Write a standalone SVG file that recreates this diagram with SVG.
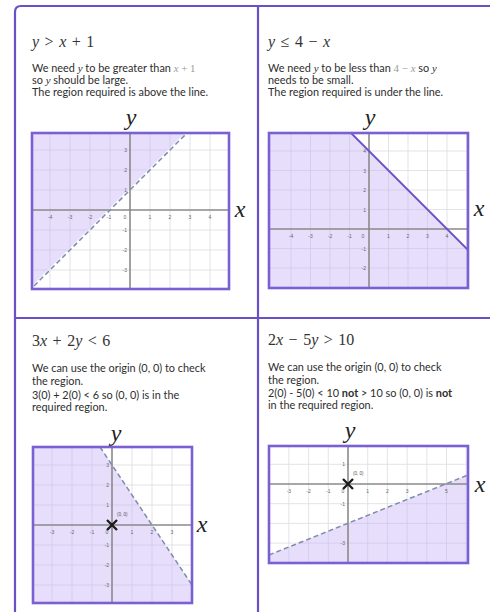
<svg xmlns="http://www.w3.org/2000/svg" width="490" height="612" viewBox="0 0 490 612">
<style>
.frame{fill:none;stroke:#6a50c8;stroke-width:2.2}
.box{fill:none;stroke:#7a60d2;stroke-width:2.6}
.grid{fill:none;stroke:#dcdce2;stroke-width:0.8}
.axis{fill:none;stroke:#8a8a8a;stroke-width:1.6}
.shade{fill:#c3b0f4;fill-opacity:0.42;stroke:none}
.dash{fill:none;stroke:#7e8cab;stroke-width:1.5;stroke-dasharray:5 3}
.solid{fill:none;stroke:#6a52c8;stroke-width:1.8}
.tick{font-family:"Liberation Sans",Arial,sans-serif;font-size:5px;fill:#666}
.tx{text-anchor:middle}
.ty{text-anchor:end}
.title{font-family:"Liberation Serif","Times New Roman",serif;font-size:16px;fill:#333;word-spacing:1.5px}
.body{font-family:Lato,"Liberation Sans",sans-serif;font-size:10.9px;fill:#2e2e2e}
.m{font-family:"Liberation Serif",serif;font-style:italic}
.mg{font-family:"Liberation Serif",serif;fill:#9a9a9a}
.it{font-style:italic}
.axl{font-family:"Liberation Serif","Times New Roman",serif;font-style:italic;font-size:24px;fill:#222;text-anchor:middle}
.cross{stroke:#1a1a1a;stroke-width:2.3;fill:none}
.ol{font-family:"Liberation Sans",sans-serif;font-size:4.5px;fill:#555}
</style>
<rect width="490" height="612" fill="#ffffff"/>
<g id="frame">
<path class="frame" d="M15,612 V12 Q15,6 21,6 H490"/>
<path class="frame" d="M258,6 V612"/>
<path class="frame" d="M15,318 H490"/>
</g>

<g id="panel1">
<text class="title" x="32" y="47"><tspan class="it">y</tspan> &gt; <tspan class="it">x</tspan> + 1</text>
<text class="body" x="32" y="71.5">We need <tspan class="m">y</tspan> to be greater than <tspan class="mg" font-style="italic">x</tspan><tspan class="mg"> + 1</tspan></text>
<text class="body" x="32" y="83.5">so <tspan class="m">y</tspan> should be large.</text>
<text class="body" x="32" y="95.5">The region required is above the line.</text>
<text class="axl" x="131" y="125">y</text>
<text class="axl" x="240" y="217">x</text>
<path class="grid" d="M50,133V289M70,133V289M90,133V289M110,133V289M150,133V289M170,133V289M190,133V289M210,133V289M32,150H229M32,170H229M32,190H229M32,230H229M32,250H229M32,270H229"/>
<polygon class="shade" points="32,133 185,133 32,286"/>
<path class="axis" d="M130,133V289M32,210H229"/>
<g class="tick">
<text class="tx" x="50" y="219">-4</text><text class="tx" x="70" y="219">-3</text><text class="tx" x="90" y="219">-2</text><text class="tx" x="109" y="219">-1</text><text class="tx" x="125" y="219">0</text><text class="tx" x="150" y="219">1</text><text class="tx" x="170" y="219">2</text><text class="tx" x="190" y="219">3</text><text class="tx" x="210" y="219">4</text>
<text class="ty" x="127" y="152">3</text><text class="ty" x="127" y="172">2</text><text class="ty" x="127" y="192">1</text><text class="ty" x="127" y="232">-1</text><text class="ty" x="127" y="252">-2</text><text class="ty" x="127" y="272">-3</text>
</g>
<path class="dash" d="M34,286 L185,135"/>
<rect class="box" x="32" y="133" width="197" height="156"/>
</g>

<g id="panel2">
<text class="title" x="268" y="47"><tspan class="it">y</tspan> ≤ 4 − <tspan class="it">x</tspan></text>
<text class="body" x="268" y="71.5">We need <tspan class="m">y</tspan> to be less than  <tspan class="mg">4 − </tspan><tspan class="mg" font-style="italic">x</tspan>  so <tspan class="m">y</tspan></text>
<text class="body" x="268" y="83.5">needs to be small.</text>
<text class="body" x="268" y="95.5">The region required is under the line.</text>
<text class="axl" x="370" y="125">y</text>
<text class="axl" x="479" y="216">x</text>
<path class="grid" d="M291,133V288M310.5,133V288M330,133V288M349.5,133V288M388.5,133V288M408,133V288M427.5,133V288M447,133V288M466.5,133V288M269,151H468M269,170.5H468M269,190H468M269,209.5H468M269,248.5H468M269,268H468"/>
<polygon class="shade" points="269,133 351,133 468,250 468,288 269,288"/>
<path class="axis" d="M369,133V288M269,229H468"/>
<g class="tick">
<text class="tx" x="291" y="238">-4</text><text class="tx" x="310.5" y="238">-3</text><text class="tx" x="330" y="238">-2</text><text class="tx" x="349.5" y="238">-1</text><text class="tx" x="363" y="238">0</text><text class="tx" x="388.5" y="238">1</text><text class="tx" x="408" y="238">2</text><text class="tx" x="427.5" y="238">3</text><text class="tx" x="447" y="238">4</text>
<text class="ty" x="366" y="153">4</text><text class="ty" x="366" y="172.5">3</text><text class="ty" x="366" y="192">2</text><text class="ty" x="366" y="211.5">1</text><text class="ty" x="366" y="250.5">-1</text><text class="ty" x="366" y="270">-2</text>
</g>
<path class="solid" d="M351,133 L468,250"/>
<rect class="box" x="269" y="133" width="199" height="155"/>
</g>

<g id="panel3">
<text class="title" x="32" y="346">3<tspan class="it">x</tspan> + 2<tspan class="it">y</tspan> &lt; 6</text>
<text class="body" x="32" y="372">We can use the origin (0, 0) to check</text>
<text class="body" x="32" y="385">the region.</text>
<text class="body" x="32" y="398.5">3(0) + 2(0) &lt; 6 so (0, 0) is in the</text>
<text class="body" x="32" y="411">required region.</text>
<text class="axl" x="116" y="441">y</text>
<text class="axl" x="202" y="532">x</text>
<path class="grid" d="M52,447V603M72,447V603M92,447V603M132,447V603M152,447V603M172,447V603M33,465H192M33,485H192M33,505H192M33,545H192M33,565H192M33,585H192"/>
<polygon class="shade" points="33,447 100,447 192,585 192,603 33,603"/>
<path class="axis" d="M112,447V603M33,525H192"/>
<g class="tick">
<text class="tx" x="52" y="534">-3</text><text class="tx" x="72" y="534">-2</text><text class="tx" x="92" y="534">-1</text><text class="tx" x="107" y="534">0</text><text class="tx" x="132" y="534">1</text><text class="tx" x="152" y="534">2</text><text class="tx" x="172" y="534">3</text>
<text class="ty" x="109" y="467">3</text><text class="ty" x="109" y="487">2</text><text class="ty" x="109" y="507">1</text><text class="ty" x="109" y="547">-1</text><text class="ty" x="109" y="567">-2</text><text class="ty" x="109" y="587">-3</text>
</g>
<path class="dash" d="M100,447 L192,585"/>
<rect class="box" x="33" y="447" width="159" height="156"/>
<path class="cross" d="M107,520L117,530M117,520L107,530"/>
<text class="ol" x="117" y="516">(0, 0)</text>
</g>

<g id="panel4">
<text class="title" x="268" y="345">2<tspan class="it">x</tspan> − 5<tspan class="it">y</tspan> &gt; 10</text>
<text class="body" x="268" y="371">We can use the origin (0, 0) to check</text>
<text class="body" x="268" y="384">the region.</text>
<text class="body" x="268" y="396.5">2(0) - 5(0) &lt; 10 <tspan font-weight="bold">not</tspan> &gt; 10 so (0, 0) is <tspan font-weight="bold">not</tspan></text>
<text class="body" x="268" y="409">in the required region.</text>
<text class="axl" x="350" y="438">y</text>
<text class="axl" x="480" y="492">x</text>
<path class="grid" d="M288.9,446V563M308.6,446V563M328.3,446V563M367.7,446V563M387.4,446V563M407.1,446V563M426.8,446V563M446.5,446V563M466.2,446V563M269,464.3H468M269,503.7H468M269,523.4H468M269,543.1H468"/>
<polygon class="shade" points="269,555 468,475 468,563 269,563"/>
<path class="axis" d="M348,446V563M269,484H468"/>
<g class="tick">
<text class="tx" x="288.9" y="493">-3</text><text class="tx" x="308.6" y="493">-2</text><text class="tx" x="328.3" y="493">-1</text><text class="tx" x="343" y="493">0</text><text class="tx" x="367.7" y="493">1</text><text class="tx" x="387.4" y="493">2</text><text class="tx" x="407.1" y="493">3</text><text class="tx" x="446.5" y="493">5</text>
<text class="ty" x="345" y="466.3">1</text><text class="ty" x="345" y="505.7">-1</text><text class="ty" x="345" y="545.1">-3</text>
</g>
<path class="dash" d="M269,555 L468,475"/>
<rect class="box" x="269" y="446" width="199" height="117"/>
<path class="cross" d="M343,479L353,489M353,479L343,489"/>
<text class="ol" x="353" y="475">(0, 0)</text>
</g>
</svg>
